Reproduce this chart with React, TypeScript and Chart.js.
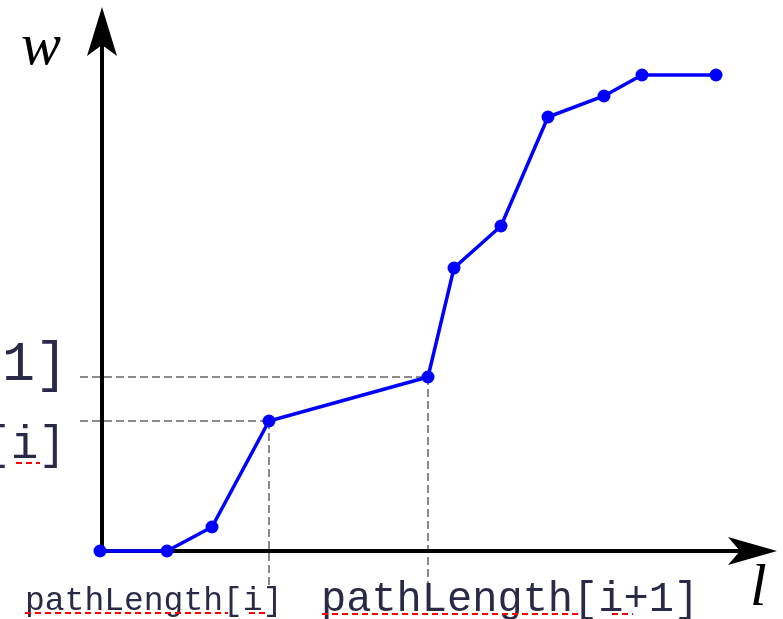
import React, { useEffect, useRef } from "react";
import { Chart, registerables } from "chart.js";

Chart.register(...registerables);

// path length (l) of each sample
const pathLength: number[] = [0, 6.7, 11.2, 16.9, 32.8, 35.4, 40.1, 44.8, 50.4, 54.2, 61.6];
// cumulative weight (w) of each sample
const weight: number[] = [0, 0, 2.4, 13.0, 17.4, 28.3, 32.5, 43.4, 45.5, 47.6, 47.6];
// indices of the highlighted samples i and i+1
const highlighted: number[] = [3, 4];
const xLabels: string[] = ["pathLength[i]", "pathLength[i+1]"];
const yLabels: string[] = ["weight[i]", "weight[i+1]"];
const axisTitles: string[] = ["w", "l"];

const diagramPlugin = {
  id: "diagram",
  beforeDatasetsDraw(chart: any) {
    const { ctx, chartArea, scales } = chart;
    const x = scales.x;
    const y = scales.y;
    const ox = chartArea.left + 2;
    const oy = chartArea.bottom;
    ctx.save();
    // dashed guides
    ctx.strokeStyle = "#8a8a8a";
    ctx.lineWidth = 2;
    ctx.setLineDash([8, 4]);
    highlighted.forEach((idx) => {
      const px = x.getPixelForValue(pathLength[idx]);
      const py = y.getPixelForValue(weight[idx]);
      ctx.beginPath();
      ctx.moveTo(chartArea.left - 20, py);
      ctx.lineTo(px, py);
      ctx.moveTo(px, py);
      ctx.lineTo(px, oy + 36);
      ctx.stroke();
    });
    ctx.setLineDash([]);
    // axes
    ctx.strokeStyle = "#000";
    ctx.fillStyle = "#000";
    ctx.lineWidth = 4;
    ctx.beginPath();
    ctx.moveTo(ox, oy);
    ctx.lineTo(ox, 40);
    ctx.moveTo(ox, oy);
    ctx.lineTo(745, oy);
    ctx.stroke();
    // y arrow head
    ctx.beginPath();
    ctx.moveTo(ox, 7);
    ctx.lineTo(ox + 15, 56);
    ctx.lineTo(ox, 45);
    ctx.lineTo(ox - 15, 56);
    ctx.closePath();
    ctx.fill();
    // x arrow head
    ctx.beginPath();
    ctx.moveTo(777, oy);
    ctx.lineTo(728, oy - 14);
    ctx.lineTo(740, oy);
    ctx.lineTo(728, oy + 14);
    ctx.closePath();
    ctx.fill();
    ctx.restore();
  },
  afterDatasetsDraw(chart: any) {
    const { ctx } = chart;
    ctx.save();
    ctx.textAlign = "left";
    ctx.textBaseline = "alphabetic";
    // axis titles
    ctx.fillStyle = "#000";
    ctx.font = "italic 60px 'Liberation Serif'";
    ctx.fillText(axisTitles[0], 21, 64);
    ctx.fillText(axisTitles[1], 750, 605);
    // x labels
    ctx.fillStyle = "#2a2a48";
    ctx.font = "33px 'Liberation Mono'";
    ctx.fillText(xLabels[0], 25, 610);
    ctx.font = "42px 'Liberation Mono'";
    ctx.fillText(xLabels[1], 321, 611);
    // y labels (cut off at the left edge)
    ctx.textAlign = "right";
    ctx.font = "46px 'Liberation Mono'";
    ctx.fillText(yLabels[0], 66, 458);
    ctx.font = "55px 'Liberation Mono'";
    ctx.fillText(yLabels[1], 68, 380);
    // spell-check squiggles
    ctx.strokeStyle = "#ff0000";
    ctx.lineWidth = 2;
    ctx.setLineDash([6, 4]);
    const segs: number[][] = [
      [25, 228, 613],
      [249, 266, 613],
      [322, 580, 614],
      [612, 633, 614],
      [16, 40, 463],
    ];
    segs.forEach(([a, b, yy]) => {
      ctx.beginPath();
      ctx.moveTo(a, yy);
      ctx.lineTo(b, yy);
      ctx.stroke();
    });
    ctx.restore();
  },
};

export default function App() {
  const ref = useRef<HTMLCanvasElement | null>(null);
  useEffect(() => {
    if (!ref.current) return;
    const chart = new Chart(ref.current, {
      type: "line",
      data: {
        datasets: [
          {
            data: pathLength.map((v, i) => ({ x: v, y: weight[i] })),
            borderColor: "#0000ff",
            backgroundColor: "#0000ff",
            borderWidth: 3.5,
            pointRadius: 6.5,
            pointHoverRadius: 6.5,
            pointBorderWidth: 0,
            tension: 0,
            clip: false as any,
          },
        ],
      },
      options: {
        animation: false,
        responsive: true,
        maintainAspectRatio: false,
        layout: { autoPadding: false, padding: { left: 100, right: 3, top: 0, bottom: 68 } },
        plugins: { legend: { display: false }, tooltip: { enabled: false } },
        events: [],
        scales: {
          x: { type: "linear", min: 0, max: 68, display: false },
          y: { type: "linear", min: 0, max: 55.1, display: false },
        },
      },
      plugins: [diagramPlugin],
    });
    return () => chart.destroy();
  }, []);
  return (
    <div style={{ position: "absolute", left: 0, top: 0, width: 783, height: 619, background: "#fff" }}>
      <canvas ref={ref} />
    </div>
  );
}
